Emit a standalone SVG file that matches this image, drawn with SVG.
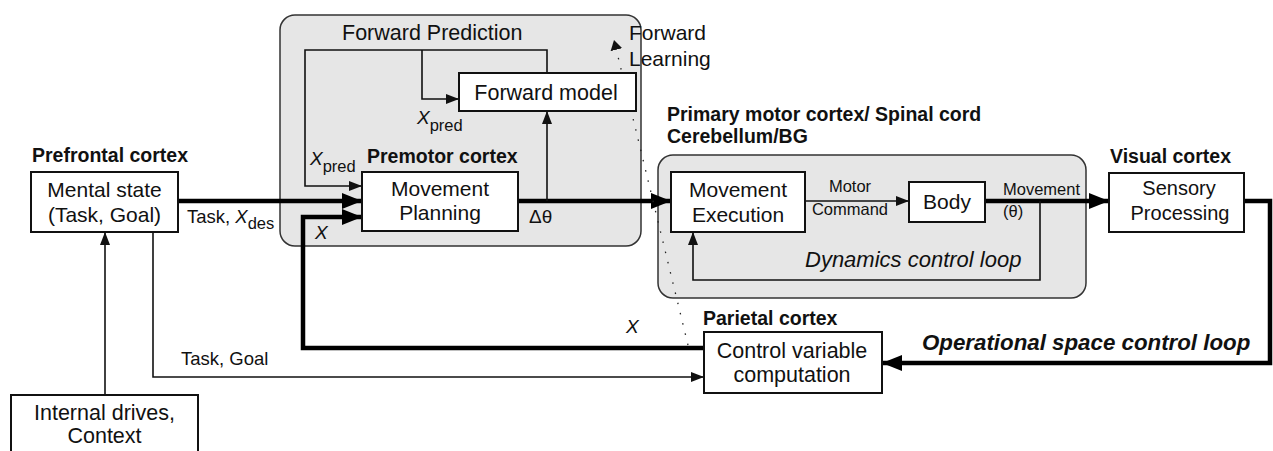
<svg xmlns="http://www.w3.org/2000/svg" width="1273" height="451" viewBox="0 0 1273 451">
<style>
  text { font-family: "Liberation Sans", Arial, sans-serif; fill: #111; }
  .node rect { fill: #fff; stroke: #111; stroke-width: 2; }
  .region { fill: #e6e6e6; stroke: #333; stroke-width: 1.5; }
  .lbl { font-size: 21px; text-anchor: middle; }
  .head { font-size: 19.5px; font-weight: bold; }
  .thick { fill: none; stroke: #000; stroke-width: 4.5; }
  .thin { fill: none; stroke: #111; stroke-width: 1.6; }
  .dot { fill: none; stroke: #222; stroke-width: 1.3; stroke-dasharray: 1.5 9; }
  .edge { font-size: 19px; }
  .small { font-size: 16.5px; }
</style>
<defs>
  <marker id="ah" viewBox="0 0 20 16" refX="20" refY="8" markerWidth="20" markerHeight="16" markerUnits="userSpaceOnUse" orient="auto">
    <path d="M0,0 L20,8 L0,16 z" fill="#000"/>
  </marker>
  <marker id="at" viewBox="0 0 13 10" refX="13" refY="5" markerWidth="13" markerHeight="10" markerUnits="userSpaceOnUse" orient="auto">
    <path d="M0,0 L13,5 L0,10 z" fill="#111"/>
  </marker>
  <marker id="ad" viewBox="0 0 10 12" refX="10" refY="6" markerWidth="10" markerHeight="12" markerUnits="userSpaceOnUse" orient="auto">
    <path d="M0,0 L10,6 L0,12 z" fill="#111"/>
  </marker>
</defs>

<g id="regions">
  <rect class="region" x="280" y="15" width="361" height="231" rx="15"/>
  <rect class="region" x="658" y="155" width="428" height="143" rx="15"/>
</g>

<g id="connectors">
  <path class="thick" d="M178,201 H362" marker-end="url(#ah)"/>
  <path class="thick" d="M518,201 H671" marker-end="url(#ah)"/>
  <path class="thick" d="M985,201 H1109" marker-end="url(#ah)"/>
  <path class="thick" d="M1244,201 H1270 V363 H882" marker-end="url(#ah)"/>
  <path class="thick" d="M704,348 H303 V217 H362" marker-end="url(#ah)"/>
  <path class="thin" d="M547,73 V50 H305 V186 H362" marker-end="url(#at)"/>
  <path class="thin" d="M422,50 V99 H459" marker-end="url(#at)"/>
  <path class="thin" d="M547,201 V111" marker-end="url(#at)"/>
  <path class="thin" d="M805,201 H909" marker-end="url(#at)"/>
  <path class="thin" d="M1040,201 V280 H693 V232" marker-end="url(#at)"/>
  <path class="thin" d="M153,232 V377 H704" marker-end="url(#at)"/>
  <path class="thin" d="M105,395 V232" marker-end="url(#at)"/>
  <path class="dot" d="M688,345 L614,40"/>
  <path d="M616.5,50 L614,40" stroke="none" fill="none" marker-end="url(#ad)"/>
</g>

<g id="mental-state" class="node">
  <text class="head" x="32" y="162">Prefrontal cortex</text>
  <rect x="31" y="172" width="147" height="60"/>
  <text class="lbl" x="104.5" y="197">Mental state</text>
  <text class="lbl" x="104.5" y="222">(Task, Goal)</text>
</g>

<g id="internal-drives" class="node">
  <rect x="11" y="395" width="187" height="70"/>
  <text class="lbl" x="104.5" y="420" style="font-size:21.5px">Internal drives,</text>
  <text class="lbl" x="104.5" y="443" style="font-size:21.5px">Context</text>
</g>

<g id="movement-planning" class="node">
  <text class="head" x="367" y="163">Premotor cortex</text>
  <rect x="362" y="172" width="156" height="59"/>
  <text class="lbl" x="440" y="196">Movement</text>
  <text class="lbl" x="440" y="220">Planning</text>
</g>

<g id="forward-model" class="node">
  <rect x="459" y="73" width="177" height="38"/>
  <text class="lbl" x="546" y="100" style="font-size:21.5px">Forward model</text>
</g>

<g id="movement-execution" class="node">
  <text class="head" x="667" y="121">Primary motor cortex/ Spinal cord</text>
  <text class="head" x="667" y="143">Cerebellum/BG</text>
  <rect x="671" y="172" width="134" height="60"/>
  <text class="lbl" x="738" y="197">Movement</text>
  <text class="lbl" x="738" y="222">Execution</text>
</g>

<g id="body" class="node">
  <rect x="909" y="182" width="76" height="40"/>
  <text class="lbl" x="947" y="209">Body</text>
</g>

<g id="sensory-processing" class="node">
  <text class="head" x="1110" y="163">Visual cortex</text>
  <rect x="1109" y="173" width="135" height="59"/>
  <text class="lbl" x="1179" y="195" style="font-size:20px">Sensory</text>
  <text class="lbl" x="1180" y="220" style="font-size:20px">Processing</text>
</g>

<g id="control-variable" class="node">
  <text class="head" x="703" y="325">Parietal cortex</text>
  <rect x="704" y="332" width="178" height="61"/>
  <text class="lbl" x="792" y="358" style="font-size:21.5px">Control variable</text>
  <text class="lbl" x="792" y="382" style="font-size:21.5px">computation</text>
</g>

<g id="labels">
  <text x="342" y="40" style="font-size:21.5px">Forward Prediction</text>
  <text x="629" y="40" style="font-size:21px">Forward</text>
  <text x="629" y="66" style="font-size:21px">Learning</text>
  <text x="310" y="165" style="font-size:19px"><tspan font-style="italic">X</tspan><tspan font-size="16.5" dy="7">pred</tspan></text>
  <text x="417" y="124" style="font-size:19px"><tspan font-style="italic">X</tspan><tspan font-size="16.5" dy="7">pred</tspan></text>
  <text x="187" y="223" style="font-size:18.5px">Task, <tspan font-style="italic">X</tspan><tspan font-size="16.5" dy="6">des</tspan></text>
  <text x="315" y="239" style="font-size:19px;font-style:italic">X</text>
  <text x="529" y="223" class="edge">Δθ</text>
  <text x="850" y="192" class="small" text-anchor="middle">Motor</text>
  <text x="850" y="215" class="small" text-anchor="middle">Command</text>
  <text x="1003" y="195" class="small">Movement</text>
  <text x="1003" y="217" class="small">(θ)</text>
  <text x="805" y="267" style="font-size:22px;font-style:italic">Dynamics control loop</text>
  <text x="626" y="333" style="font-size:19px;font-style:italic">X</text>
  <text x="181" y="365" style="font-size:18.5px">Task, Goal</text>
  <text x="922" y="350" style="font-size:22.3px;font-weight:bold;font-style:italic">Operational space control loop</text>
</g>
</svg>
